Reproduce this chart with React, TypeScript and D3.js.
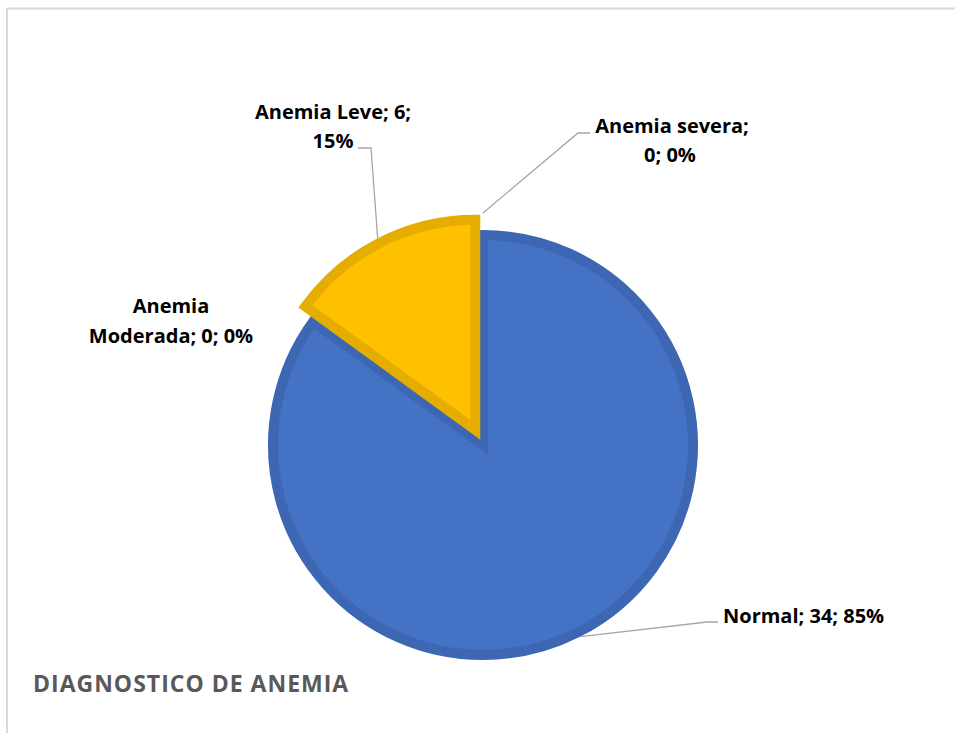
import React from 'react';
import * as d3 from 'd3';

const categories = ['Normal', 'Anemia Leve', 'Anemia Moderada', 'Anemia severa'];
const values = [34, 6, 0, 0];
const percents = ['85%', '15%', '0%', '0%'];
const fills = ['#4472c4', '#ffc000', '#a5a5a5', '#ed7d31'];
const strokes = ['#3d67b3', '#e5ad00', '#959595', '#d57029'];
const exploded = [0, 17, 0, 0];

const W = 955;
const H = 733;
const cx = 483;
const cy = 445;
const radius = 210;

const App = () => {
  const pie = d3.pie<number>().sort(null).value(d => d);
  const arcs = pie(values);
  const arc = d3.arc<d3.PieArcDatum<number>>().innerRadius(0).outerRadius(radius);
  // point on the outer rim, used for leader lines
  const rim = (r: number) => d3.arc<d3.PieArcDatum<number>>().innerRadius(r).outerRadius(r);

  const offset = (a: d3.PieArcDatum<number>, d: number) => {
    const mid = (a.startAngle + a.endAngle) / 2;
    return [Math.sin(mid) * d, -Math.cos(mid) * d];
  };

  const normalPt = rim(radius + 5).centroid(arcs[0]);
  const [lx, ly] = offset(arcs[1], exploded[1]);
  const levePt = rim(radius + 5).centroid(arcs[1]);
  const severaPt = rim(radius + 22).centroid(arcs[3]);

  const labelStyle = { fontFamily: '"Open Sans", sans-serif', fontWeight: 700, fontSize: 20, fill: '#000' };
  const lead = { fill: 'none', stroke: '#a6a6a6', strokeWidth: 1.3 };

  return (
    <svg width={W} height={H} style={{ position: 'absolute', left: 0, top: 0, background: '#fff' }}>
      <line x1={7} y1={8.5} x2={W} y2={8.5} stroke="#d9d9d9" strokeWidth={2} />
      <line x1={7} y1={8} x2={7} y2={H} stroke="#d9d9d9" strokeWidth={2} />

      <g transform={`translate(${cx},${cy})`}>
        {arcs.map((a, i) => {
          if (a.value === 0) return null;
          const [dx, dy] = offset(a, exploded[i]);
          return (
            <path
              key={categories[i]}
              d={arc(a) || ''}
              transform={`translate(${dx},${dy})`}
              fill={fills[i]}
              stroke={strokes[i]}
              strokeWidth={10}
              strokeLinejoin="miter"
            />
          );
        })}

        {/* leader lines */}
        <polyline points={`${normalPt[0]},${normalPt[1]} 224,177 235,177`} {...lead} />
        <polyline points={`${levePt[0] + lx},${levePt[1] + ly} -112,-297 -125,-297`} {...lead} />
        <polyline points={`${severaPt[0]},${severaPt[1]} 95,-312 107,-312`} {...lead} />
      </g>

      <g style={labelStyle}>
        <text x={723} y={623}>{`${categories[0]}; ${values[0]}; ${percents[0]}`}</text>
        <text x={333} y={119} textAnchor="middle">{`${categories[1]}; ${values[1]};`}</text>
        <text x={333} y={148} textAnchor="middle">{percents[1]}</text>
        <text x={171} y={313} textAnchor="middle">Anemia</text>
        <text x={171} y={343} textAnchor="middle">{`Moderada; ${values[2]}; ${percents[2]}`}</text>
        <text x={672} y={133} textAnchor="middle">{`${categories[3]};`}</text>
        <text x={670} y={162} textAnchor="middle">{`${values[3]}; ${percents[3]}`}</text>
      </g>

      <text
        x={33}
        y={692}
        style={{ fontFamily: '"Open Sans", sans-serif', fontWeight: 700, fontSize: 23, letterSpacing: 1, fill: '#595959' }}
      >
        DIAGNOSTICO DE ANEMIA
      </text>
    </svg>
  );
};

export default App;
